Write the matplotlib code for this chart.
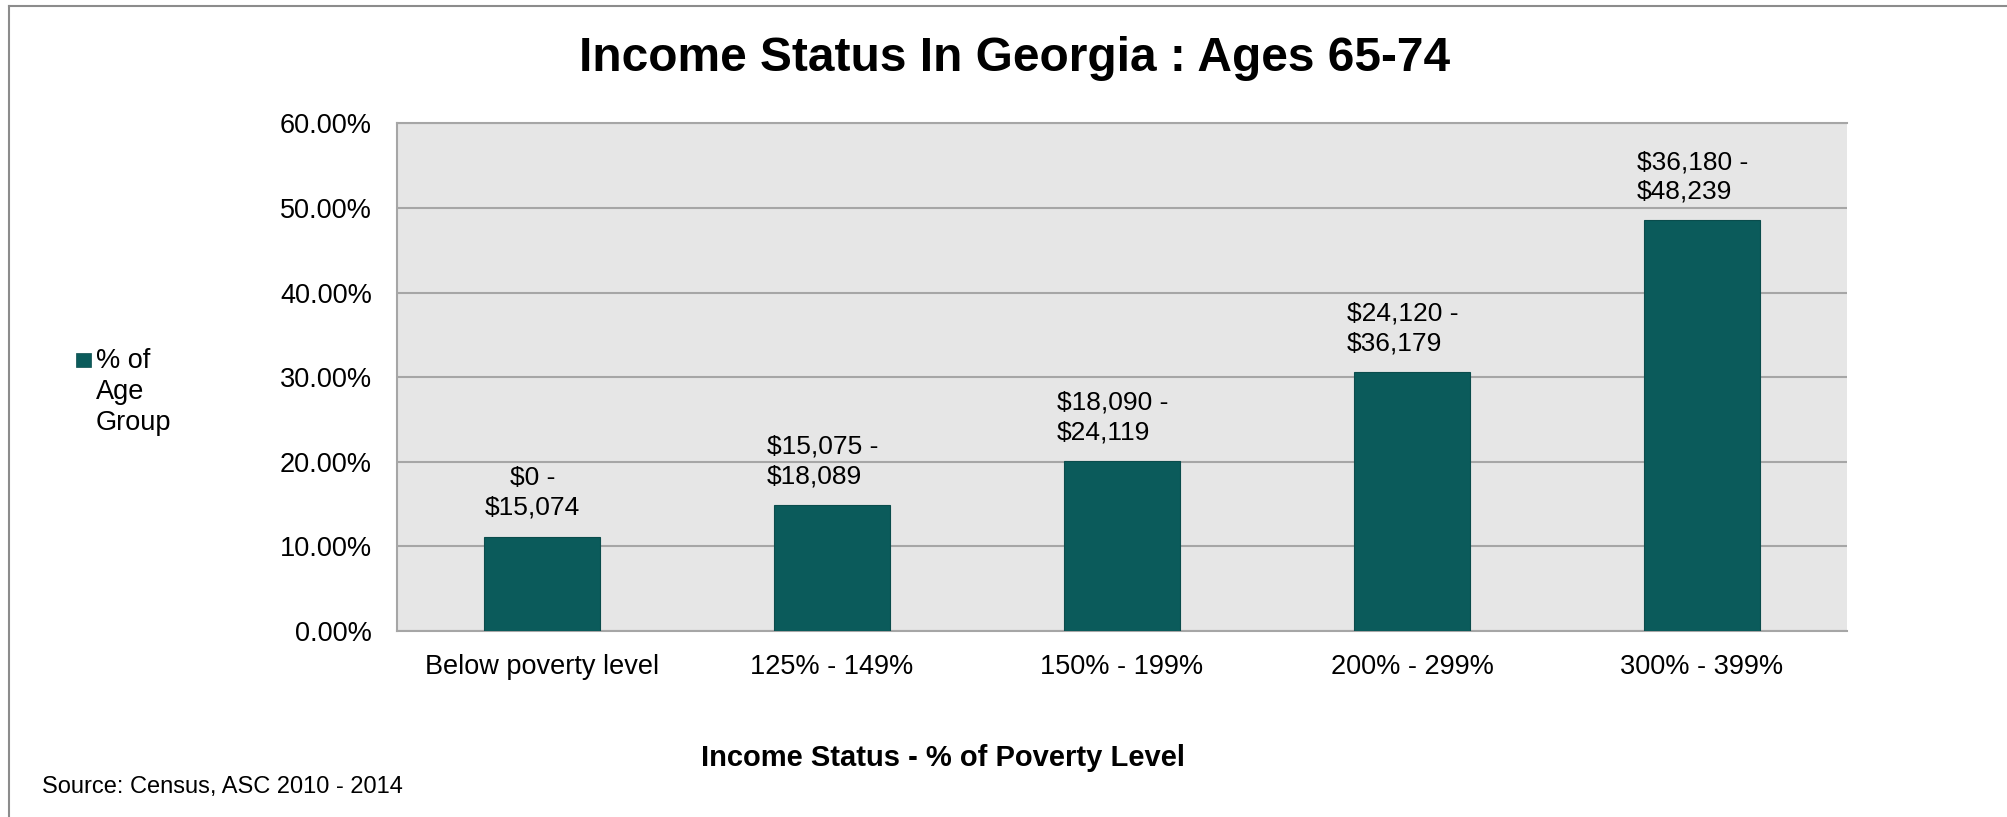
import matplotlib
matplotlib.use("Agg")
import matplotlib.pyplot as plt
import numpy as np
from matplotlib.lines import Line2D
from matplotlib.patches import Rectangle
from matplotlib.ticker import FuncFormatter

# ---- data ----
categories = ["Below poverty level", "125% - 149%", "150% - 199%", "200% - 299%", "300% - 399%"]
values = [11.15, 14.87, 20.10, 30.63, 48.52]          # % of age group
income_ranges = ["$0 -\n$15,074", "$15,075 -\n$18,089", "$18,090 -\n$24,119",
                 "$24,120 -\n$36,179", "$36,180 -\n$48,239"]
yticks = [0, 10, 20, 30, 40, 50, 60]
series_name = "% of\nAge\nGroup"
title = "Income Status In Georgia : Ages 65-74"
xlabel = "Income Status - % of Poverty Level"
source = "Source: Census, ASC 2010 - 2014"

# ---- style ----
plt.rcParams['font.family'] = ['Liberation Sans', 'DejaVu Sans']
W, H = 2008, 817
BAR = '#0B5B5B'
GRID = '#A6A6A6'
label_align = ['center', 'left', 'left', 'left', 'left']

fig = plt.figure(figsize=(W / 100, H / 100), dpi=100)
fig.patch.set_facecolor('white')

def fx(px):
    return px / W

def fy(py):
    return 1 - py / H

left, right, top, bottom = 397, 1847, 123.3, 631
ax = fig.add_axes([fx(left), fy(bottom), fx(right - left), (bottom - top) / H])
ax.set_facecolor('#E6E6E6')

x = np.arange(len(categories))
ax.bar(x, values, width=0.40, color=BAR, edgecolor='#0A4C4C', linewidth=0.8, zorder=3)
ax.set_xlim(-0.5, len(categories) - 0.5)
ax.set_ylim(0, 60)
ax.set_yticks(yticks)
ax.yaxis.set_major_formatter(FuncFormatter(lambda v, p: f"{v:.2f}%"))
ax.set_xticks(x)
ax.set_xticklabels(categories)
ax.grid(axis='y', color=GRID, linewidth=1.5, zorder=1)
ax.set_axisbelow(True)
for s in ['left', 'bottom', 'top']:
    ax.spines[s].set_color(GRID)
    ax.spines[s].set_linewidth(1.5)
ax.spines['right'].set_visible(False)
ax.tick_params(axis='both', length=0, labelsize=19.5, colors='black')
ax.tick_params(axis='y', pad=18)
ax.tick_params(axis='x', pad=16.5)

for xi, v, lab, al in zip(x, values, income_ranges, label_align):
    ax.annotate(lab, (xi, v), xytext=(-7, 12), textcoords='offset points',
                ha='center', va='bottom', multialignment=al, fontsize=19,
                linespacing=1.3, zorder=4)

# title, axis label, source
fig.text(fx(1015), fy(70.7), title, ha='center', va='baseline',
         fontsize=34.5, fontweight='bold')
fig.text(fx(700.7), fy(765.7), xlabel, ha='left', va='baseline',
         fontsize=21, fontweight='bold')
fig.text(fx(42), fy(793), source, ha='left', va='baseline', fontsize=17)

# legend
fig.patches.append(Rectangle((fx(76), fy(366.7)), fx(14.7), 14 / H,
                             transform=fig.transFigure, facecolor=BAR,
                             edgecolor='#0A4C4C', linewidth=0.5))
fig.text(fx(96), fy(368.3 + 2 * 30.8), series_name, ha='left', va='baseline',
         fontsize=19.5, linespacing=1.25)

# outer frame (left and top edges)
bx, by = fx(9.3), fy(5.7)
fig.add_artist(Line2D([bx, bx], [0, by], transform=fig.transFigure,
                      color='#8C8C8C', linewidth=1.5))
fig.add_artist(Line2D([bx, 1], [by, by], transform=fig.transFigure,
                      color='#8C8C8C', linewidth=1.5))

fig.savefig('out.png', dpi=100)
